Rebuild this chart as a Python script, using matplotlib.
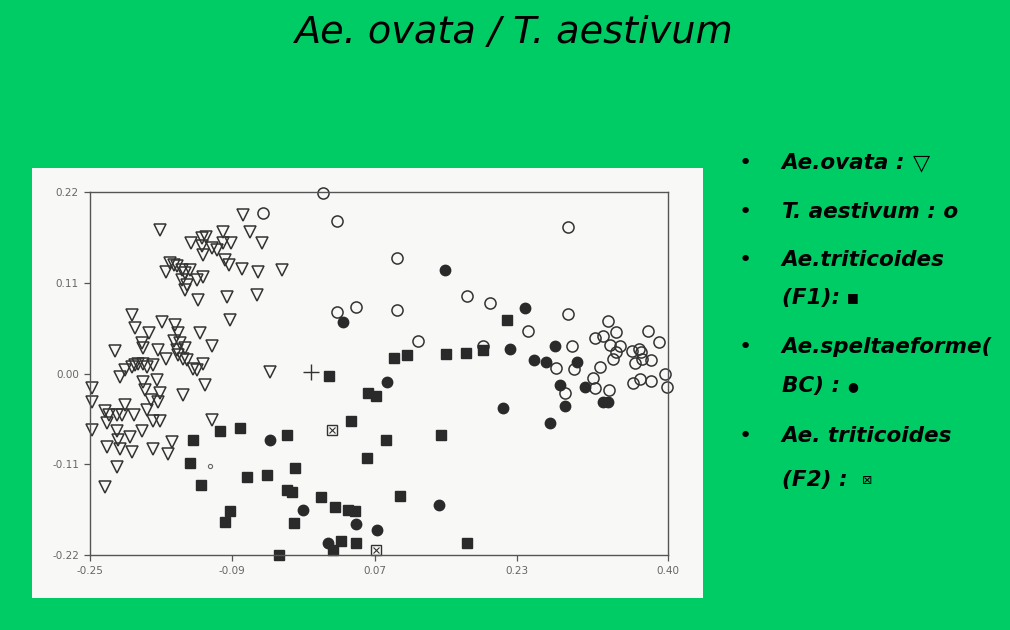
# -*- coding: utf-8 -*-
"""Ae. ovata / T. aestivum scatter slide"""

import matplotlib
matplotlib.use("Agg")
import matplotlib.pyplot as plt
from matplotlib.patches import Rectangle

# --- data ---
ovata_x = [-0.0775, -0.070, -0.057, -0.171, -0.136, -0.124, -0.119, -0.124, -0.123,
           -0.113, -0.1075, -0.100, -0.100, -0.091, -0.098, -0.094, -0.079, -0.061,
           -0.160, -0.156, -0.1525, -0.164, -0.147, -0.143, -0.1375, -0.147, -0.141,
           -0.143, -0.130, -0.123, -0.128, -0.096, -0.0625, -0.093, -0.203, -0.199,
           -0.184, -0.192, -0.190, -0.173, -0.169, -0.154, -0.151, -0.156, -0.149,
           -0.143, -0.1525, -0.151, -0.145, -0.126, -0.113, -0.222, -0.216, -0.211,
           -0.203, -0.199, -0.196, -0.190, -0.186, -0.179, -0.164, -0.141, -0.134,
           -0.130, -0.123, -0.0475, -0.190, -0.175, -0.121, -0.248, -0.034,
           -0.248, -0.248, -0.233, -0.229, -0.231, -0.220, -0.211, -0.214, -0.201,
           -0.220, -0.218, -0.231, -0.216, -0.205, -0.203, -0.192, -0.220, -0.233,
           -0.186, -0.179, -0.171, -0.179, -0.162, -0.158, -0.188, -0.181, -0.173,
           -0.171, -0.145, -0.113]
ovata_y = [0.192, 0.172, 0.158, 0.174, 0.158, 0.164, 0.166, 0.154, 0.144,
           0.152, 0.150, 0.172, 0.158, 0.158, 0.138, 0.132, 0.127, 0.123,
           0.134, 0.132, 0.130, 0.123, 0.126, 0.122, 0.126, 0.113, 0.107,
           0.101, 0.113, 0.117, 0.089, 0.093, 0.095, 0.065, 0.071, 0.055,
           0.049, 0.037, 0.031, 0.029, 0.063, 0.059, 0.049, 0.039, 0.037,
           0.031, 0.029, 0.023, 0.018, 0.049, 0.033, 0.027, -0.004, 0.004,
           0.008, 0.010, 0.012, 0.012, 0.008, 0.010, 0.018, 0.016, 0.006,
           0.004, 0.012, 0.002, -0.010, -0.008, -0.014, -0.018, 0.125,
           -0.034, -0.068, -0.046, -0.050, -0.060, -0.050, -0.038, -0.050, -0.050,
           -0.070, -0.081, -0.089, -0.091, -0.077, -0.095, -0.070, -0.113, -0.137,
           -0.044, -0.058, -0.058, -0.091, -0.097, -0.083, -0.020, -0.032, -0.034,
           -0.024, -0.026, -0.056]

aestivum_x = [-0.055, 0.0125, 0.0275, 0.095, 0.0275, 0.049, 0.095, 0.119, 0.174,
              0.288, 0.200, 0.243, 0.287, 0.292, 0.274, 0.294, 0.192, 0.333,
              0.341, 0.318, 0.327, 0.335, 0.346, 0.342, 0.338, 0.324, 0.3155,
              0.359, 0.367, 0.370, 0.3706, 0.363, 0.381, 0.377, 0.390, 0.397,
              0.399, 0.361, 0.369, 0.381, 0.334, 0.318, 0.284]
aestivum_y = [0.195, 0.219, 0.185, 0.140, 0.075, 0.081, 0.077, 0.040, 0.094,
              0.178, 0.086, 0.052, 0.072, 0.033, 0.007, 0.005, 0.033, 0.064,
              0.050, 0.043, 0.045, 0.034, 0.033, 0.026, 0.018, 0.008, -0.006,
              0.027, 0.030, 0.026, 0.018, 0.013, 0.016, 0.052, 0.038, 0.000,
              -0.016, -0.012, -0.007, -0.009, -0.020, -0.018, -0.023]

f1_x = [-0.134, -0.104, -0.081, -0.1375, -0.1255, -0.073, -0.051, -0.0925, -0.098,
        -0.038, 0.019, 0.092, 0.106, 0.1505, 0.173, 0.063, 0.072, 0.043, -0.029,
        0.083, 0.1445, 0.062, -0.019, -0.029, -0.023, 0.0095, 0.0256, 0.0406,
        0.048, -0.021, 0.099, 0.032, 0.049, 0.023, 0.1745, 0.219, 0.192]
f1_y = [-0.080, -0.070, -0.066, -0.109, -0.135, -0.126, -0.123, -0.167, -0.180,
        -0.220, -0.003, 0.019, 0.022, 0.024, 0.025, -0.023, -0.027, -0.058, -0.075,
        -0.080, -0.075, -0.102, -0.114, -0.141, -0.144, -0.150, -0.162, -0.165,
        -0.167, -0.181, -0.148, -0.203, -0.206, -0.214, -0.206, 0.065, 0.028]

bc_x = [-0.0475, 0.149, 0.034, 0.084, -0.010, 0.049, 0.0725, 0.018, 0.143,
        0.239, 0.222, 0.273, 0.249, 0.263, 0.298, 0.279, 0.307, 0.214, 0.284,
        0.267, 0.327, 0.333]
bc_y = [-0.081, 0.126, 0.062, -0.010, -0.165, -0.182, -0.190, -0.206, -0.159,
        0.080, 0.030, 0.033, 0.016, 0.014, 0.014, -0.014, -0.016, -0.0415, -0.039,
        -0.0595, -0.034, -0.034]

f2_x = [0.022, 0.072]
f2_y = [-0.069, -0.214]

small_x = [-0.115]
small_y = [-0.112]

center_x = [-0.001]
center_y = [0.002]

x_ticks = [-0.25, -0.09, 0.07, 0.23, 0.40]
y_ticks = [-0.22, -0.11, 0.00, 0.11, 0.22]

legend_rows = [("•", "Ae.ovata : ", "▽"),
               ("•", "T. aestivum : o", ""),
               ("•", "Ae.triticoides", ""),
               ("", "(F1): ", "■"),
               ("•", "Ae.speltaeforme(", ""),
               ("", "BC) : ", "●"),
               ("•", "Ae. triticoides", ""),
               ("", "(F2) :  ", "⊠")]

GREEN = '#00cc66'
INK = '#333333'
PAPER = '#f8f8f6'

fig = plt.figure(figsize=(10.1, 6.3), dpi=100)
fig.patch.set_facecolor(GREEN)

# scanned paper
fig.patches.append(Rectangle((0.0317, 0.0508), 0.6644, 0.6825, transform=fig.transFigure,
                             facecolor=PAPER, edgecolor='none', zorder=-5))

ax = fig.add_axes([0.0891, 0.119, 0.5723, 0.5762])
ax.set_zorder(2)
ax.set_facecolor(PAPER)

kw = dict(linestyle='none', clip_on=False)
ax.plot(ovata_x, ovata_y, marker='v', markersize=9, markerfacecolor='none',
        markeredgecolor=INK, markeredgewidth=1.1, **kw)
ax.plot(aestivum_x, aestivum_y, marker='o', markersize=8, markerfacecolor='none',
        markeredgecolor=INK, markeredgewidth=1.1, **kw)
ax.plot(f1_x, f1_y, marker='s', markersize=7, color='#2a2a2a', **kw)
ax.plot(bc_x, bc_y, marker='o', markersize=7.5, color='#2a2a2a', **kw)
ax.plot(f2_x, f2_y, marker='s', markersize=7, markerfacecolor=PAPER,
        markeredgecolor=INK, markeredgewidth=1.0, **kw)
ax.plot(f2_x, f2_y, marker='x', markersize=4, markeredgecolor=INK,
        markeredgewidth=0.8, **kw)
ax.plot(small_x, small_y, marker='o', markersize=3, markerfacecolor='none',
        markeredgecolor='#666666', markeredgewidth=0.8, **kw)
ax.plot(center_x, center_y, marker='+', markersize=11, markeredgecolor=INK,
        markeredgewidth=1.0, **kw)

ax.set_xlim(-0.25, 0.40)
ax.set_ylim(-0.22, 0.22)
ax.set_xticks(x_ticks)
ax.set_xticklabels([f"{v:.2f}" for v in x_ticks])
ax.set_yticks(y_ticks)
ax.set_yticklabels([f"{v:.2f}" for v in y_ticks])
ax.tick_params(direction='out', length=4, width=0.9, colors='#555555',
               labelsize=7.5, labelcolor='#666666', pad=4)
for spine in ax.spines.values():
    spine.set_color('#555555')
    spine.set_linewidth(1.0)

fig.text(0.508, 0.948, "Ae. ovata / T. aestivum", ha='center', va='center',
         fontsize=27.5, style='italic', color='black', family='DejaVu Sans')

row_y = [0.741, 0.6635, 0.587, 0.527, 0.449, 0.387, 0.308, 0.238]
for (bullet, label, sym), yy in zip(legend_rows, row_y):
    if bullet:
        fig.text(0.7376, yy, bullet, ha='center', va='center', fontsize=16,
                 color='black')
    t = fig.text(0.774, yy, label, ha='left', va='center', fontsize=15.5,
                 style='italic', weight='bold', color='black')
    if sym:
        fig.canvas.draw()
        bb = t.get_window_extent()
        xs = bb.x1 / fig.bbox.width
        size = 16 if sym == "▽" else 9
        fig.text(xs, yy, sym, ha='left', va='center', fontsize=size,
                 color='black', family='DejaVu Sans')

fig.savefig("out.png", dpi=100, facecolor=GREEN)
